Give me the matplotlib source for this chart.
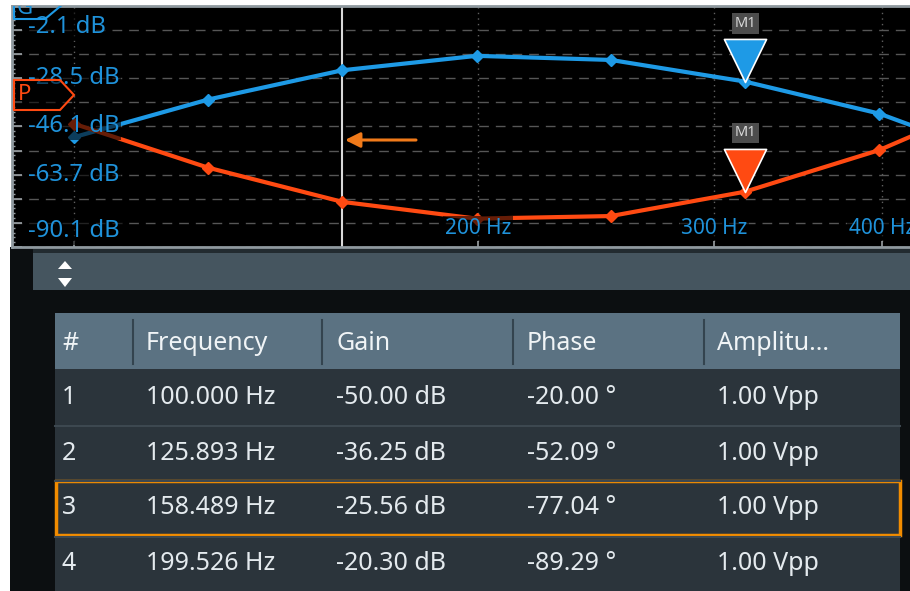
import matplotlib
matplotlib.use("Agg")
import matplotlib.pyplot as plt
from matplotlib import transforms
from matplotlib.patches import Rectangle, Polygon
from matplotlib.path import Path
from matplotlib.ticker import NullLocator

plt.rcParams["font.family"] = ["Noto Sans", "DejaVu Sans"]

# sweep points (first four are listed in the table)
freq_hz = [100.000, 125.893, 158.489, 199.526, 251.189, 316.228, 398.107, 501.187]
gain_db = [-50.00, -36.25, -25.56, -20.30, -21.8, -29.7, -41.4, -59.4]
phase_deg = [-20.00, -52.09, -77.04, -89.29, -87.4, -69.6, -39.2, 3.0]
amplitude_vpp = [1.00, 1.00, 1.00, 1.00]

table_columns = ["#", "Frequency", "Gain", "Phase", "Amplitu..."]
selected_row = 2     # highlighted row / cursor
marker_point = 5     # M1 marker
freq_labels = [200, 300, 400]
freq_grid = [100, 200, 300, 400]

# screen scales
gain_top, gain_div = -2.1, 8.8
phase_top, phase_div = 66.0, 17.6
n_div = 10
gain_label_divs = [0, 3, 5, 7, 10]
f_min, f_max = 89.92, 419.6

BLUE = "#1e9ae6"
BLUE_TXT = "#1f92da"
ORANGE = "#ff4a12"
ARROW = "#f07a1a"

W, H = 910, 591
PX0, PX1, PY0, PY1 = 12, 910, 6, 247

fig = plt.figure(figsize=(W / 100, H / 100), dpi=100)
fig.patch.set_facecolor("white")

# background in pixel coordinates for the panel below the diagram
bg = fig.add_axes([0, 0, 1, 1])
bg.set_xlim(0, W)
bg.set_ylim(H, 0)
bg.axis("off")
bg.add_patch(Rectangle((10, 247), 900, 344, fc="#0c0f11", ec="none"))
bg.add_patch(Rectangle((33, 249), 877, 4, fc="#222b30", ec="none"))
bg.add_patch(Rectangle((33, 253), 877, 37, fc="#45555f", ec="none"))
bg.add_patch(Polygon([(58, 269), (72, 269), (65, 261)], fc="white", ec="none"))
bg.add_patch(Polygon([(58, 278), (72, 278), (65, 287)], fc="white", ec="none"))

# table
col_x = [62, 146, 336, 527, 717]
row_y = [397, 453, 508, 564]
bg.add_patch(Rectangle((55, 313), 845, 56, fc="#5b7282", ec="none"))
bg.add_patch(Rectangle((55, 369), 845, 222, fc="#2b343b", ec="none"))
for sx in [133, 322, 513, 704]:
    bg.plot([sx, sx], [320, 364], color="#34444f", lw=1.5)
for sy in [426, 481, 537]:
    bg.plot([55, 900], [sy, sy], color="#3d4850", lw=1.5)
for x, name in zip(col_x, table_columns):
    bg.text(x, 343, name, color="#f0f4f6", fontsize=18, va="center", ha="left")
for i in range(len(amplitude_vpp)):
    cells = [f"{i + 1}", f"{freq_hz[i]:.3f} Hz", f"{gain_db[i]:.2f} dB",
             f"{phase_deg[i]:.2f} °", f"{amplitude_vpp[i]:.2f} Vpp"]
    for x, cell in zip(col_x, cells):
        bg.text(x, row_y[i], cell, color="#e4eaee", fontsize=18,
                va="center", ha="left")
bg.add_patch(Rectangle((56, 481), 844, 54, fill=False, ec="#f28c00", lw=2.5))

# diagram: gain axis
ax = fig.add_axes([PX0 / W, 1 - PY1 / H, (PX1 - PX0) / W, (PY1 - PY0) / H])
ax.set_zorder(2)
ax.set_facecolor("black")
ax.set_xscale("log")
ax.set_xlim(f_min, f_max)
ax.set_ylim(gain_top - n_div * gain_div, gain_top)
ax.set_yticks([gain_top - k * gain_div for k in range(n_div + 1)])
ax.set_yticks([gain_top - k * gain_div / 5 for k in range(n_div * 5 + 1)], minor=True)
ax.xaxis.set_minor_locator(NullLocator())
ax.set_xticks(freq_grid + [freq_hz[selected_row]])
ax.tick_params(axis="both", which="both", direction="in", labelleft=False,
               labelbottom=False, color="#9aa0a4")
ax.tick_params(axis="y", which="major", length=7, width=1.2)
ax.tick_params(axis="y", which="minor", length=2.5, width=1)
ax.tick_params(axis="x", which="major", length=4, width=1.2)
for side in ["top", "left", "bottom"]:
    ax.spines[side].set_color("#8f999f")
    ax.spines[side].set_linewidth(2)
ax.spines["right"].set_visible(False)
ax.grid(axis="y", which="major", color="#565656", lw=1, linestyle=(0, (7, 5)))
for f in freq_grid:
    ax.axvline(f, color="#606060", lw=1, linestyle=(0, (1, 3)), zorder=1)
ax.axvline(freq_hz[selected_row], color="#d9d9d9", lw=1.5, zorder=2)

ax.plot(freq_hz, gain_db, color=BLUE, lw=3, marker="D", ms=6.5, zorder=3)

# marker triangle with its tip on the point
tri = Path([(-0.49, 1.0), (0.49, 1.0), (0.0, 0.0), (-0.49, 1.0)],
           [Path.MOVETO, Path.LINETO, Path.LINETO, Path.CLOSEPOLY])
ax.plot([freq_hz[marker_point]], [gain_db[marker_point]], ls="none", marker=tri,
        ms=62, mfc=BLUE, mec="white", mew=1.2, zorder=4)

# phase axis
ax2 = ax.twinx()
ax2.set_ylim(phase_top - n_div * phase_div, phase_top)
ax2.set_xlim(f_min, f_max)
ax2.axis("off")
ax2.plot(freq_hz, phase_deg, color=ORANGE, lw=3, marker="D", ms=6.5, zorder=3)
ax2.plot([freq_hz[marker_point]], [phase_deg[marker_point]], ls="none", marker=tri,
         ms=62, mfc=ORANGE, mec="white", mew=1.2, zorder=4)


def afrac(x, y):
    return ((x - PX0) / (PX1 - PX0), (PY1 - y) / (PY1 - PY0))


label_box = dict(boxstyle="square,pad=0.08", fc="black", ec="none", alpha=0.6)

# gain scale labels
lo, hi = afrac(0, 231)[1], afrac(0, 27)[1]
for k in gain_label_divs:
    fy = min(max(1 - k / n_div, lo), hi)
    ax2.text(afrac(28, 0)[0], fy, f"{gain_top - k * gain_div:.1f} dB",
             transform=ax2.transAxes, color=BLUE_TXT, fontsize=17.2,
             va="center", ha="left", bbox=label_box, zorder=5)

# frequency labels
xtrans = transforms.blended_transform_factory(ax.transData, ax.transAxes)
for f in freq_labels:
    ax2.text(f, afrac(0, 228)[1], f"{f} Hz", transform=xtrans, color=BLUE_TXT,
             fontsize=15, va="center", ha="center", bbox=label_box, zorder=5,
             clip_on=True)

# phase reference tag
ax2.add_patch(Polygon([afrac(14, 80), afrac(60, 80), afrac(74, 95), afrac(60, 110),
                       afrac(14, 110)], closed=True, transform=ax2.transAxes,
                      fc=(0, 0, 0, 0.55), ec=ORANGE, lw=1.5, zorder=6))
ax2.text(*afrac(18, 95), "P", transform=ax2.transAxes, color=ORANGE, fontsize=16,
         va="center", ha="left", zorder=7)

# gain reference tag, clipped at the top edge
gx, gy = zip(*[afrac(14, 0), afrac(14, 19), afrac(45, 19), afrac(63, 4)])
ax2.plot(gx, gy, color=BLUE, lw=1.5, transform=ax2.transAxes, zorder=6)
ax2.text(*afrac(17, 8), "G", transform=ax2.transAxes, color=BLUE_TXT, fontsize=16,
         va="center", ha="left", zorder=7, clip_on=True)

# sweep direction arrow
ax2.annotate("", xy=afrac(345, 140), xytext=afrac(416, 140), xycoords=ax2.transAxes,
             arrowprops=dict(arrowstyle="-|>,head_length=0.9,head_width=0.45",
                             color=ARROW, lw=2.2, shrinkA=0, shrinkB=0), zorder=6)

# marker labels
m1_box = dict(boxstyle="square,pad=0.18", fc="#4d4d4d", ec="none")
ax2.annotate("M1", xy=(freq_hz[marker_point], gain_db[marker_point]),
             xycoords=ax.transData, xytext=(0, 58), textcoords="offset pixels",
             ha="center", va="center", fontsize=10.5, color="#d8d8d8", bbox=m1_box,
             zorder=6)
ax2.annotate("M1", xy=(freq_hz[marker_point], phase_deg[marker_point]),
             xycoords=ax2.transData, xytext=(0, 59), textcoords="offset pixels",
             ha="center", va="center", fontsize=10.5, color="#d8d8d8", bbox=m1_box,
             zorder=6)

fig.savefig("out.png", dpi=100, facecolor=fig.get_facecolor())
